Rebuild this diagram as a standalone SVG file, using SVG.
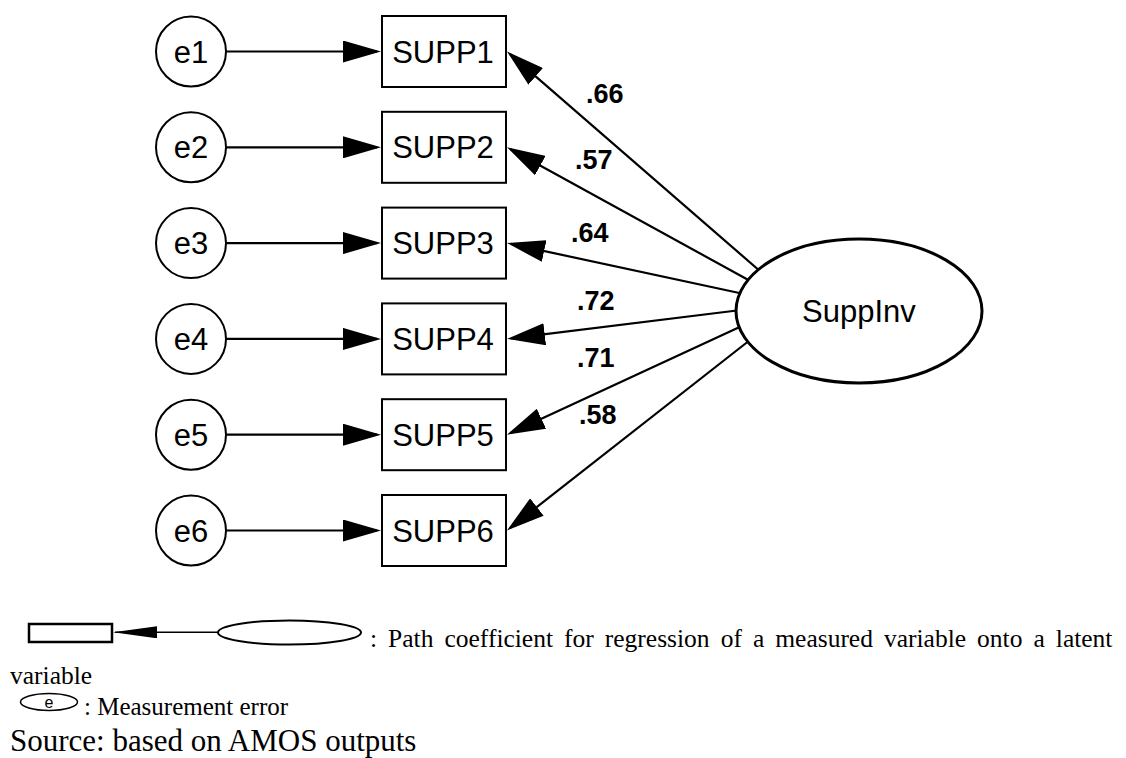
<svg xmlns="http://www.w3.org/2000/svg" width="1126" height="758" viewBox="0 0 1126 758">
  <defs>
    <marker id="head" markerUnits="userSpaceOnUse" markerWidth="38" markerHeight="22" refX="34" refY="11" orient="auto">
      <path d="M0,0 L38,11 L0,22 Z" fill="#000"/>
    </marker>
    <marker id="headSmall" markerUnits="userSpaceOnUse" markerWidth="44" markerHeight="12" refX="42" refY="6" orient="auto">
      <path d="M0,0 L44,6 L0,12 Z" fill="#000"/>
    </marker>
    <style>
      .err { fill: #fff; stroke: #000; stroke-width: 2; }
      .obs { fill: #fff; stroke: #000; stroke-width: 2; }
      .lat { fill: #fff; stroke: #000; stroke-width: 3; }
      .lbl { font-family: "Liberation Sans", Arial, sans-serif; font-size: 31px; text-anchor: middle; fill: #000; }
      .coef { font-family: "Liberation Sans", Arial, sans-serif; font-size: 27px; font-weight: bold; fill: #000; }
      .edge { stroke: #000; stroke-width: 2.2; fill: none; marker-end: url(#head); }
      .note { font-family: "Liberation Serif", "Times New Roman", serif; fill: #000; }
    </style>
  </defs>

  <!-- paths: errors to indicators, latent factor to indicators -->
  <g id="connectors">
    <line class="edge" x1="226" y1="51.5" x2="377" y2="51.5"/>
    <line class="edge" x1="226" y1="147.3" x2="377" y2="147.3"/>
    <line class="edge" x1="226" y1="243.1" x2="377" y2="243.1"/>
    <line class="edge" x1="226" y1="338.9" x2="377" y2="338.9"/>
    <line class="edge" x1="226" y1="434.7" x2="377" y2="434.7"/>
    <line class="edge" x1="226" y1="530.5" x2="377" y2="530.5"/>

    <line class="edge" x1="761" y1="272" x2="510" y2="54.1"/>
    <line class="edge" x1="752" y1="282" x2="510.5" y2="149.2"/>
    <line class="edge" x1="744" y1="294" x2="510.9" y2="243.9"/>
    <line class="edge" x1="741" y1="310" x2="511" y2="338.4"/>
    <line class="edge" x1="744" y1="325" x2="510.6" y2="433"/>
    <line class="edge" x1="750" y1="340" x2="510.1" y2="528"/>

    <text class="coef" x="586" y="103">.66</text>
    <text class="coef" x="575" y="169">.57</text>
    <text class="coef" x="571" y="242">.64</text>
    <text class="coef" x="577" y="310">.72</text>
    <text class="coef" x="577" y="367">.71</text>
    <text class="coef" x="579" y="424">.58</text>
  </g>

  <!-- measurement errors -->
  <g id="e1"><circle class="err" cx="191" cy="51.5" r="35"/><text class="lbl" x="191" y="62.5">e1</text></g>
  <g id="e2"><circle class="err" cx="191" cy="147.3" r="35"/><text class="lbl" x="191" y="158.3">e2</text></g>
  <g id="e3"><circle class="err" cx="191" cy="243.1" r="35"/><text class="lbl" x="191" y="254.1">e3</text></g>
  <g id="e4"><circle class="err" cx="191" cy="338.9" r="35"/><text class="lbl" x="191" y="349.9">e4</text></g>
  <g id="e5"><circle class="err" cx="191" cy="434.7" r="35"/><text class="lbl" x="191" y="445.7">e5</text></g>
  <g id="e6"><circle class="err" cx="191" cy="530.5" r="35"/><text class="lbl" x="191" y="541.5">e6</text></g>

  <!-- observed indicators -->
  <g id="SUPP1"><rect class="obs" x="382" y="16" width="124" height="71"/><text class="lbl" x="443" y="62.5">SUPP1</text></g>
  <g id="SUPP2"><rect class="obs" x="382" y="111.8" width="124" height="71"/><text class="lbl" x="443" y="158.3">SUPP2</text></g>
  <g id="SUPP3"><rect class="obs" x="382" y="207.6" width="124" height="71"/><text class="lbl" x="443" y="254.1">SUPP3</text></g>
  <g id="SUPP4"><rect class="obs" x="382" y="303.4" width="124" height="71"/><text class="lbl" x="443" y="349.9">SUPP4</text></g>
  <g id="SUPP5"><rect class="obs" x="382" y="399.2" width="124" height="71"/><text class="lbl" x="443" y="445.7">SUPP5</text></g>
  <g id="SUPP6"><rect class="obs" x="382" y="495" width="124" height="71"/><text class="lbl" x="443" y="541.5">SUPP6</text></g>

  <!-- latent factor -->
  <g id="SuppInv"><ellipse class="lat" cx="859" cy="311" rx="123" ry="72"/><text class="lbl" x="859" y="322">SuppInv</text></g>

  <!-- key -->
  <g id="legend">
    <rect x="29" y="624" width="83" height="18" fill="#fff" stroke="#000" stroke-width="2.5"/>
    <line x1="218" y1="632.3" x2="115" y2="632.3" stroke="#000" stroke-width="1.5" marker-end="url(#headSmall)"/>
    <ellipse cx="289.5" cy="632.5" rx="71.5" ry="12" fill="#fff" stroke="#000" stroke-width="2"/>
    <text class="note" font-size="25.5" x="370" y="647" word-spacing="4.65">: Path coefficient for regression of a measured variable onto a latent</text>
    <text class="note" font-size="25.5" x="10" y="684">variable</text>
    <ellipse cx="49" cy="702" rx="28.5" ry="8.5" fill="#fff" stroke="#000" stroke-width="1.5"/>
    <text x="49" y="707.5" font-family="Liberation Sans, Arial, sans-serif" font-size="16" text-anchor="middle">e</text>
    <text class="note" font-size="25" x="84" y="715">: Measurement error</text>
    <text class="note" font-size="31" x="10" y="751">Source: based on AMOS outputs</text>
  </g>
</svg>
